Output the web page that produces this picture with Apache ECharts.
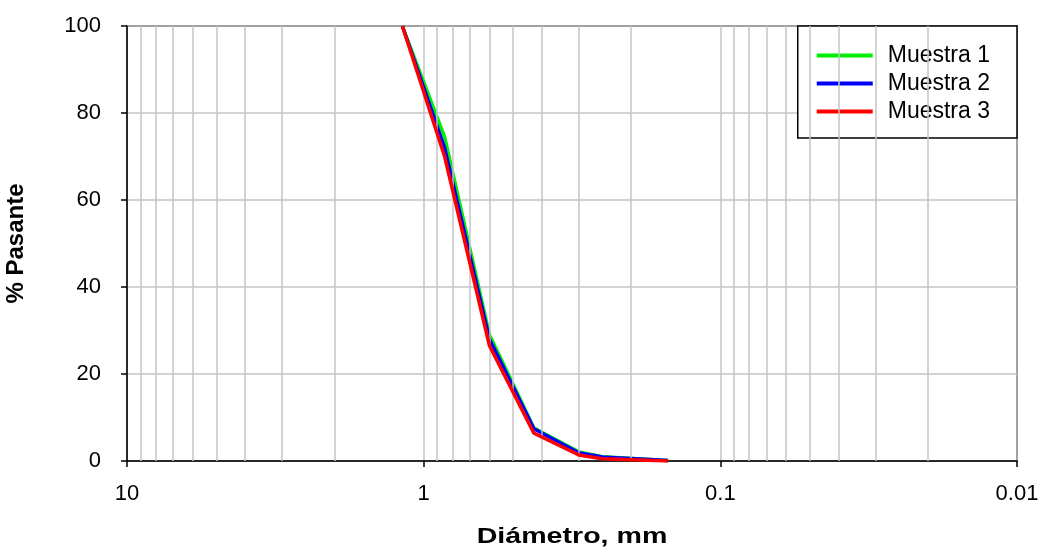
<!DOCTYPE html>
<html>
<head>
<meta charset="utf-8">
<script src="https://cdn.jsdelivr.net/npm/echarts@6/dist/echarts.min.js"></script>
<style>html,body{margin:0;padding:0;background:#fff;}#c{width:1042px;height:551px;}</style>
</head>
<body>
<div id="c"></div>
<script>
// Sieve sizes (mm)
var diametros = [1.18, 0.85, 0.6, 0.425, 0.3, 0.25, 0.15];
var muestra1 = [100, 74.5, 29.0, 7.6, 2.1, 1.0, 0.1];
var muestra2 = [100, 72.0, 28.0, 7.4, 1.9, 0.9, 0.1];
var muestra3 = [100, 70.0, 26.5, 6.4, 1.4, 0.5, 0.0];
var nombres = ['Muestra 1', 'Muestra 2', 'Muestra 3'];
var colores = ['#00ee00', '#0000ff', '#ff0000'];
var decadas = [0.01, 0.1, 1];
var multiplicadores = [2, 3, 4, 5, 6, 7, 8, 9];

var minorGrid = [];
decadas.forEach(function (d) {
  multiplicadores.forEach(function (m) {
    minorGrid.push({ xAxis: +(d * m).toPrecision(6) });
  });
});

function pairs(vals) {
  return diametros.map(function (d, i) { return [d, vals[i]]; });
}
var FONT = 'Liberation Sans, Arial, sans-serif';
var chart = echarts.init(document.getElementById('c'), null, { renderer: 'canvas' });
var series = [{
  name: '_grid', type: 'line', data: [], silent: true, z: 1,
  markLine: {
    silent: true, symbol: ['none', 'none'], label: { show: false },
    lineStyle: { color: '#c4c4c4', width: 1.5, type: 'solid' },
    data: minorGrid, animation: false
  }
}];
[muestra1, muestra2, muestra3].forEach(function (vals, i) {
  series.push({
    name: nombres[i], type: 'line', data: pairs(vals),
    symbol: 'none', showSymbol: false, z: 3 + i,
    lineStyle: { color: colores[i], width: 3.5 },
    itemStyle: { color: colores[i] }
  });
});
chart.setOption({
  animation: false,
  backgroundColor: '#fff',
  grid: { left: 127, right: 25, top: 26, bottom: 90, containLabel: false, outerBoundsMode: 'none',
    show: true, borderColor: '#000', borderWidth: 1.5, backgroundColor: 'transparent' },
  legend: {
    data: nombres, orient: 'vertical', right: 25, top: 26, icon: 'rect',
    backgroundColor: '#fff', borderColor: '#000', borderWidth: 1.5,
    padding: [18, 27, 15, 19], itemGap: 5, itemWidth: 56, itemHeight: 4,
    textStyle: { fontFamily: FONT, fontSize: 23, color: '#000', lineHeight: 21, padding: [0, 0, 0, 10] }
  },
  graphic: [{
    type: 'text', x: 572, y: 537, scaleX: 1.3, silent: true,
    style: { text: 'Diámetro, mm', fontFamily: FONT, fontSize: 22, fontWeight: 'bold', fill: '#000', align: 'center', verticalAlign: 'middle' }
  }],
  xAxis: {
    type: 'log', logBase: 10, min: 0.01, max: 10, inverse: true,
    axisLine: { lineStyle: { color: '#000', width: 1.5 } },
    axisTick: { show: true, length: 6, lineStyle: { color: '#000', width: 1.5 } },
    axisLabel: { fontFamily: FONT, fontSize: 22, color: '#000', margin: 22,
      formatter: function (v) { return String(+v.toPrecision(6)); } },
    splitLine: { show: true, lineStyle: { color: '#c4c4c4', width: 1.5 } },
    minorTick: { show: false }, minorSplitLine: { show: false }
  },
  yAxis: {
    type: 'value', min: 0, max: 100, interval: 20,
    name: '% Pasante', nameLocation: 'middle', nameGap: 99, nameRotate: 90,
    nameTextStyle: { fontFamily: FONT, fontSize: 24, fontWeight: 'bold', color: '#000' },
    axisLine: { show: true, lineStyle: { color: '#000', width: 1.5 } },
    axisTick: { show: true, length: 6, lineStyle: { color: '#000', width: 1.5 } },
    axisLabel: { fontFamily: FONT, fontSize: 22, color: '#000', margin: 26 },
    splitLine: { show: true, lineStyle: { color: '#c4c4c4', width: 1.5 } }
  },
  series: series
});
</script>
</body>
</html>
